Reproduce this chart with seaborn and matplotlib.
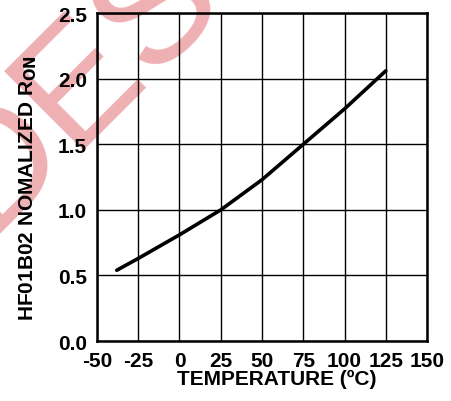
import pandas as pd
import matplotlib.pyplot as plt
import seaborn as sns

# curve
temperature = [-38, -25, 0, 25, 50, 75, 100, 125]
ron_norm = [0.54, 0.63, 0.81, 1.0, 1.23, 1.5, 1.77, 2.06]

x_ticks = [-50, -25, 0, 25, 50, 75, 100, 125, 150]
y_ticks = [0.0, 0.5, 1.0, 1.5, 2.0, 2.5]

df = pd.DataFrame({'temp': temperature, 'ron': ron_norm})

sns.set_theme(style="white")
plt.rcParams['font.family'] = ['Liberation Sans Narrow', 'Liberation Sans', 'DejaVu Sans']
plt.rcParams['font.weight'] = 'bold'
plt.rcParams['axes.unicode_minus'] = False
plt.rcParams['mathtext.fontset'] = 'custom'
plt.rcParams['mathtext.rm'] = 'Liberation Sans Narrow:bold'
plt.rcParams['mathtext.default'] = 'rm'

fig = plt.figure(figsize=(4.51, 4.02), dpi=100)

# pink watermark behind the chart
fig.text(-0.029, 0.42, 'DESIGNS', fontsize=118, color='#efb0b3',
         rotation=45, rotation_mode='anchor', ha='left', va='baseline',
         fontweight='normal', family='Liberation Sans', zorder=0)

ax = fig.add_axes([0.215, 0.149, 0.732, 0.816])
ax.set_zorder(1)
ax.set_facecolor('none')

sns.lineplot(data=df, x='temp', y='ron', color='black', linewidth=2.6, ax=ax)

ax.set_xlim(-50, 150)
ax.set_ylim(0, 2.5)
ax.set_xticks(x_ticks)
ax.set_yticks(y_ticks)
ax.set_yticklabels([f'{v:.1f}' for v in y_ticks])
ax.grid(True, color='black', linewidth=1.0)
ax.tick_params(length=0, labelsize=15, pad=7, labelcolor='black')
for s in ax.spines.values():
    s.set_color('black')
    s.set_linewidth(1.8)

ax.set_xlabel('TEMPERATURE (\u00baC)', fontsize=15, fontweight='bold', color='black')
ax.set_ylabel(r'HF01B02 NOMALIZED R$_{\mathrm{ON}}$', fontsize=15,
              fontweight='bold', color='black')
ax.xaxis.set_label_coords(0.545, -0.085)
ax.yaxis.set_label_coords(-0.175, 0.47)

fig.savefig('out.png', dpi=100)
